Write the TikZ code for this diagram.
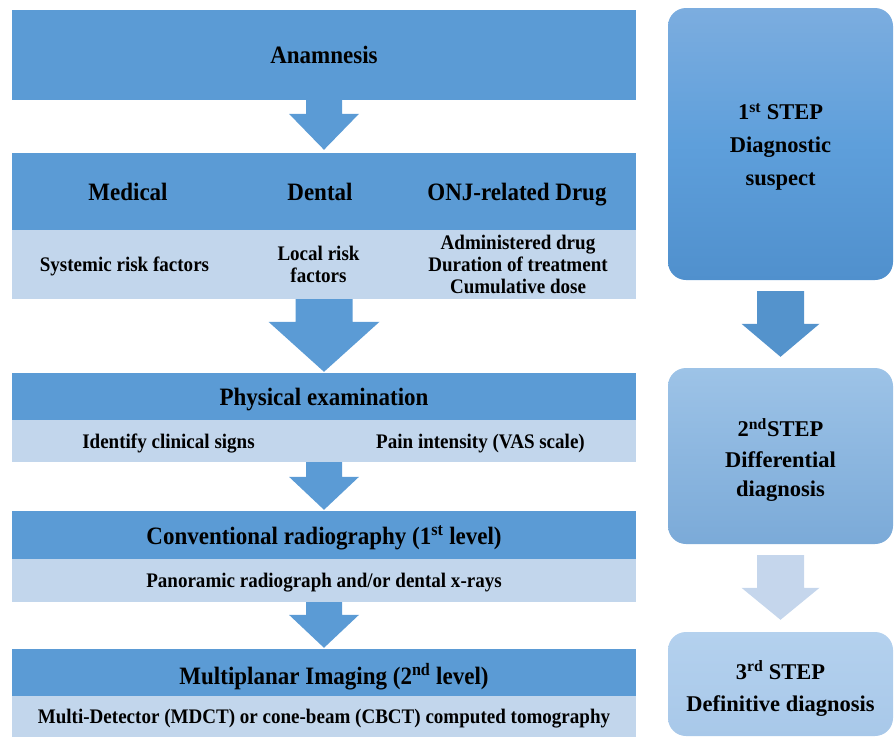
\documentclass[tikz,border=0pt]{standalone}
\usepackage{fontspec}
\setmainfont{Liberation Serif}[BoldFont={Liberation Serif Bold}]
\newfontfamily\tnrcond{Liberation Serif}[BoldFont={Liberation Serif Bold},FakeStretch=0.92]
\usetikzlibrary{calc}
\definecolor{darkb}{RGB}{91,155,213}
\definecolor{lightb}{RGB}{194,214,236}
\definecolor{arrR}{RGB}{84,147,204}
\definecolor{arrL}{RGB}{197,214,236}
\definecolor{ronetop}{RGB}{124,173,223}
\definecolor{ronemid}{RGB}{94,159,219}
\definecolor{ronebot}{RGB}{80,144,205}
\definecolor{rtwotop}{RGB}{157,195,231}
\definecolor{rtwobot}{RGB}{123,170,216}
\definecolor{rthreetop}{RGB}{180,209,238}
\definecolor{rthreebot}{RGB}{168,200,233}
% #1 from node, #2 to node, #3 shaft half, #4 head half, #5 head length, #6 start gap, #7 end gap, #8 colour
\newcommand{\blockarr}[8]{%
  \fill[#8] let \p1=(#1.south), \p2=(#2.north) in
    (\x2-#3pt,\y1-#6pt) -- (\x2+#3pt,\y1-#6pt) -- (\x2+#3pt,\y2+#7pt+#5pt)
    -- (\x2+#4pt,\y2+#7pt+#5pt) -- (\x2,\y2+#7pt) -- (\x2-#4pt,\y2+#7pt+#5pt)
    -- (\x2-#3pt,\y2+#7pt+#5pt) -- cycle;}
\tikzset{
  hbox/.style={fill=darkb, draw=none, inner sep=0pt, minimum width=624pt, text=black,
    text depth=0pt, font=\tnrcond\fontsize{25}{27}\selectfont\bfseries},
  lbox/.style={fill=lightb, draw=none, inner sep=0pt, align=center, text=black,
    text depth=0pt, font=\tnrcond\fontsize{20.7}{22}\selectfont\bfseries},
  htext/.style={inner sep=0pt, text=black, text depth=0pt,
    font=\tnrcond\fontsize{25}{27}\selectfont\bfseries},
  rbox/.style={draw=none, rounded corners=18pt, minimum width=225pt, inner sep=0pt},
  rtext/.style={inner sep=0pt, align=center, text=black,
    font=\rmfamily\fontsize{22.5}{33}\selectfont\bfseries}
}
\begin{document}
\begin{tikzpicture}[x=1pt,y=-1pt]
\useasboundingbox (0,0) rectangle (896,737);
% left column
\node[hbox, minimum height=90pt] (anam) at (324,55) {Anamnesis};
\node[hbox, minimum height=77pt] (hdr) at (324,191.5) {};
\node[htext] (med) at (128,192) {Medical};
\node[htext] (den) at (320,192) {Dental};
\node[htext] (onj) at (517,192) {ONJ-related Drug};
\node[lbox, minimum width=225pt, minimum height=69pt] (sys) at (124.5,264.5) {Systemic risk factors};
\node[lbox, minimum width=163pt, minimum height=69pt] (loc) at (318.5,264.5) {Local risk\\factors};
\node[lbox, minimum width=236pt, minimum height=69pt] (adm) at (518,264.5) {Administered drug\\Duration of treatment\\Cumulative dose};
\node[hbox, minimum height=47pt] (phys) at (324,396.5) {Physical examination};
\node[lbox, minimum width=313pt, minimum height=42pt] (sign) at (168.5,441) {Identify clinical signs};
\node[lbox, minimum width=311pt, minimum height=42pt] (pain) at (480.5,441) {Pain intensity (VAS scale)};
\node[hbox, minimum height=48pt] (conv) at (324,535) {Conventional radiography (1\textsuperscript{st} level)};
\node[lbox, minimum width=624pt, minimum height=43pt] (pano) at (324,580.5) {Panoramic radiograph and/or dental x-rays};
\node[hbox, minimum height=47pt] (multi) at (324,672.5) {};
\node[htext] (multit) at (334,674) {Multiplanar Imaging (2\textsuperscript{nd} level)};
\node[lbox, minimum width=624pt, minimum height=41pt] (mdct) at (324,716.5) {Multi-Detector (MDCT) or cone-beam (CBCT) computed tomography};
% left arrows
\blockarr{anam}{hdr}{18}{35}{36}{0}{3}{darkb}
\blockarr{loc}{phys}{28.5}{55.5}{50}{0}{1}{darkb}
\blockarr{sign}{conv}{18}{35}{33}{0}{1}{darkb}
\blockarr{pano}{multi}{18}{35}{33}{0}{1}{darkb}
% right column
\node[rbox, minimum height=272pt, top color=ronetop, bottom color=ronebot, middle color=ronemid] (r1) at (780.5,144) {};
\node[rtext] (r1t) at (780.5,147) {1\textsuperscript{st} STEP\\Diagnostic\\suspect};
\node[rbox, minimum height=176pt, top color=rtwotop, bottom color=rtwobot] (r2) at (780.5,456) {};
\node[rtext] (r2t) at (780.5,460) {2\textsuperscript{nd}STEP\\[-2pt]Differential\\[-4pt]diagnosis};
\node[rbox, minimum height=104pt, top color=rthreetop, bottom color=rthreebot] (r3) at (780.5,684) {};
\node[rtext] (r3t) at (780.5,688.5) {3\textsuperscript{rd} STEP\\[-1pt]Definitive diagnosis};
\blockarr{r1}{r2}{23.5}{39}{33}{11}{11}{arrR}
\blockarr{r2}{r3}{23.5}{39}{32}{11}{12}{arrL}
\end{tikzpicture}
\end{document}
